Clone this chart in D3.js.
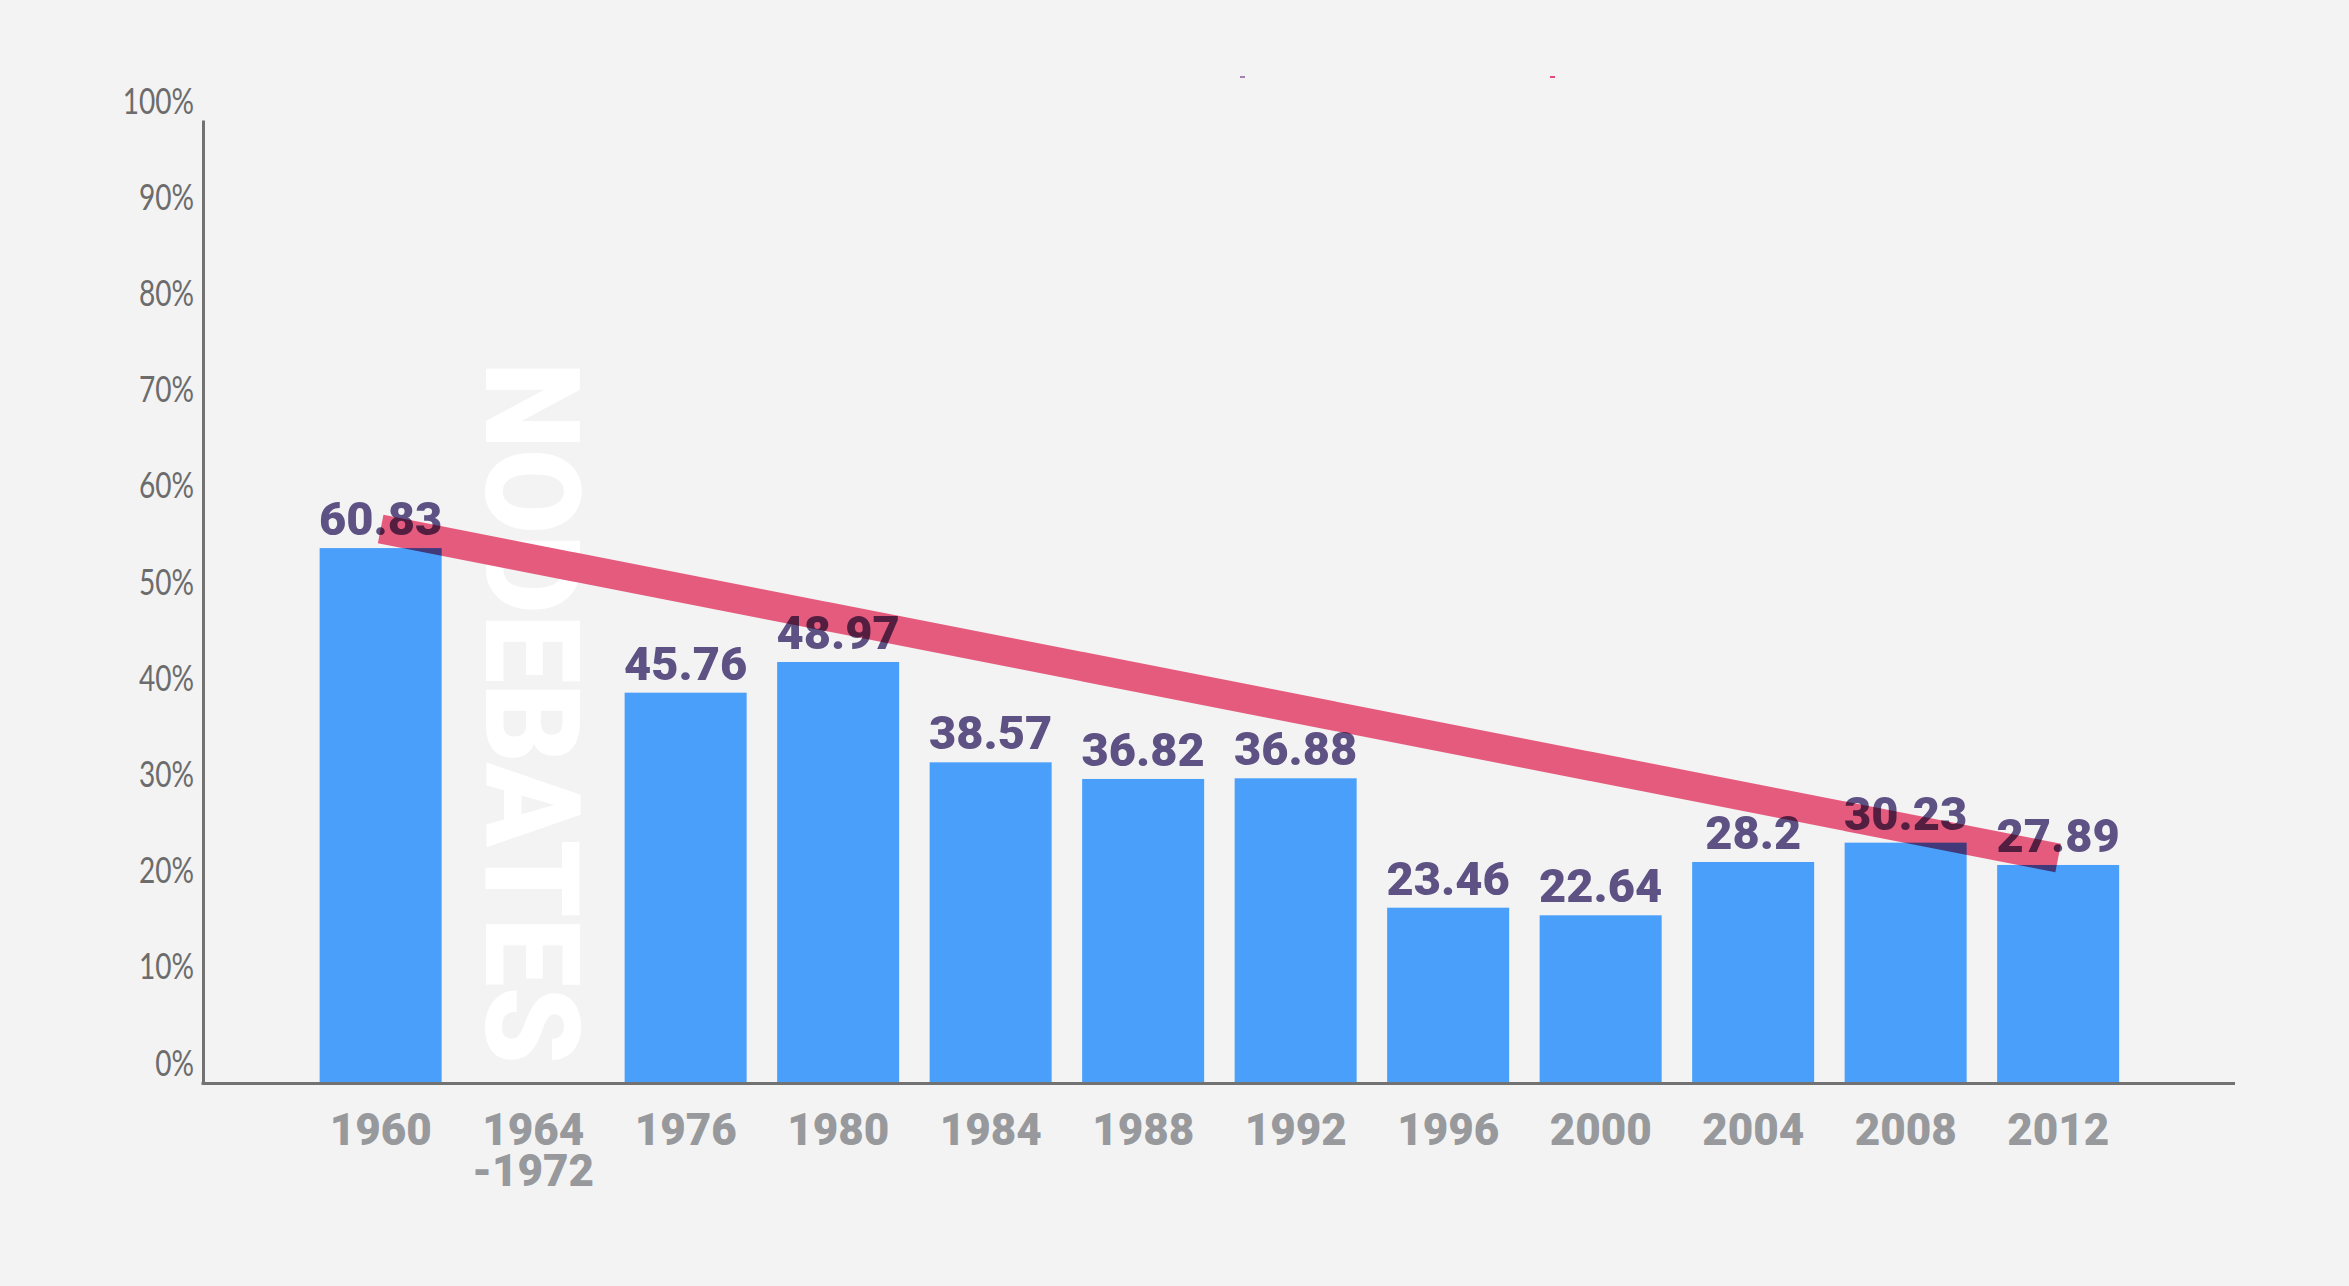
<!DOCTYPE html>
<html>
<head>
<meta charset="utf-8">
<script src="https://cdn.jsdelivr.net/npm/d3@7/dist/d3.min.js"></script>
<style>
  html, body { margin: 0; padding: 0; background: #f3f3f3; }
  svg { display: block; }
</style>
</head>
<body>
<svg id="chart" width="2349" height="1286"></svg>
<script>
// ---- data ----
const categories = ["1960", "1964\n-1972", "1976", "1980", "1984", "1988", "1992", "1996", "2000", "2004", "2008", "2012"];
// value labels printed above the bars
const valueLabels = ["60.83", null, "45.76", "48.97", "38.57", "36.82", "36.88", "23.46", "22.64", "28.2", "30.23", "27.89"];
// bar heights as read against the 0-100% axis
const barLevels = [55.5, null, 40.47, 43.66, 33.23, 31.5, 31.57, 18.12, 17.33, 22.87, 24.88, 22.56];
// trend line end points (axis units) at first and last category
const trendCats = ["1960", "2012"];
const trendLevels = [57.48, 23.28];
const yTicks = [0, 10, 20, 30, 40, 50, 60, 70, 80, 90, 100];
const gapCategory = "1964\n-1972";
const gapText = "NODEBATES";
const legendColors = ["#a480b6", "#e4497a"];

// ---- layout ----
const svg = d3.select("#chart");
const W = 2349, H = 1286;
const yTop = 120, yBase = 1082, xAxisLeft = 203, xAxisRight = 2235;
const heavy = "Roboto, 'Open Sans', sans-serif";

svg.append("rect").attr("width", W).attr("height", H).attr("fill", "#f3f3f3");

const x = d3.scaleBand().domain(categories).range([304.4, 2134.4]).paddingInner(0.2).paddingOuter(0.1);
const y = d3.scaleLinear().domain([0, 100]).range([yBase, yTop]);

// tiny legend remnants at top
const legendX = [1240, 1550];
svg.selectAll("rect.leg").data(legendColors).enter().append("rect")
  .attr("class", "leg")
  .attr("x", (d, i) => legendX[i]).attr("y", 76)
  .attr("width", 5).attr("height", 2).attr("fill", d => d);

// "NO DEBATES" vertical text
const gx = x(gapCategory) + x.bandwidth() / 2;
svg.append("text")
  .attr("transform", `translate(${gx - 47},362) rotate(90)`)
  .attr("font-family", heavy)
  .attr("font-weight", 900)
  .attr("font-size", 132)
  .attr("fill", "#ffffff")
  .attr("textLength", 702)
  .attr("lengthAdjust", "spacingAndGlyphs")
  .text(gapText);

// y axis
const yAxis = d3.axisLeft(y).tickValues(yTicks).tickSize(0).tickPadding(0).tickFormat(d => d + "%");
const gy = svg.append("g").attr("transform", `translate(${xAxisLeft},0)`).call(yAxis);
gy.select(".domain").attr("stroke", "#727272").attr("stroke-width", 3);
gy.selectAll(".tick text")
  .attr("x", null).attr("dy", null)
  .attr("transform", "translate(-9,-7) scale(0.78,1)")
  .attr("font-family", "Lato, sans-serif")
  .attr("font-weight", 400)
  .attr("font-size", 36)
  .attr("fill", "#6c6c6c")
  .attr("text-anchor", "end")
  .attr("dominant-baseline", "alphabetic");

// x axis line
svg.append("line")
  .attr("x1", xAxisLeft - 1.5).attr("x2", xAxisRight)
  .attr("y1", yBase + 1.5).attr("y2", yBase + 1.5)
  .attr("stroke", "#727272").attr("stroke-width", 3);

// x labels
const xl = svg.append("g");
categories.forEach(c => {
  const lines = c.split("\n");
  const t = xl.append("text")
    .attr("x", x(c) + x.bandwidth() / 2)
    .attr("y", 1145)
    .attr("text-anchor", "middle")
    .attr("font-family", heavy)
    .attr("font-weight", 900)
    .attr("font-size", 44)
    .attr("fill", "#97999c");
  lines.forEach((l, i) => {
    t.append("tspan").attr("x", x(c) + x.bandwidth() / 2).attr("dy", i === 0 ? 0 : 41).text(l);
  });
});

// plot group (isolated so blends only affect overlaps with the trend line)
const plot = svg.append("g").style("isolation", "isolate");

const trendData = trendCats.map((c, i) => [x(c) + x.bandwidth() / 2, y(trendLevels[i])]);
plot.append("path")
  .attr("d", d3.line()(trendData))
  .attr("stroke", "#e4567a")
  .attr("stroke-opacity", 0.97)
  .attr("stroke-width", 29)
  .attr("fill", "none");

const barData = categories.map((c, i) => ({ c, v: barLevels[i], label: valueLabels[i] })).filter(d => d.v !== null);

plot.selectAll("rect.bar").data(barData).enter().append("rect")
  .attr("class", "bar")
  .attr("x", d => x(d.c))
  .attr("width", x.bandwidth())
  .attr("y", d => y(d.v))
  .attr("height", d => y(0) - y(d.v))
  .attr("fill", "#499ff9")
  .style("mix-blend-mode", "multiply");

plot.selectAll("text.val").data(barData).enter().append("text")
  .attr("class", "val")
  .attr("x", d => x(d.c) + x.bandwidth() / 2)
  .attr("y", d => y(d.v) - 13)
  .attr("text-anchor", "middle")
  .attr("font-family", heavy)
  .attr("font-weight", 900)
  .attr("font-size", 47)
  .attr("fill", "#5d5283")
  .style("mix-blend-mode", "multiply")
  .text(d => d.label);
</script>
</body>
</html>
